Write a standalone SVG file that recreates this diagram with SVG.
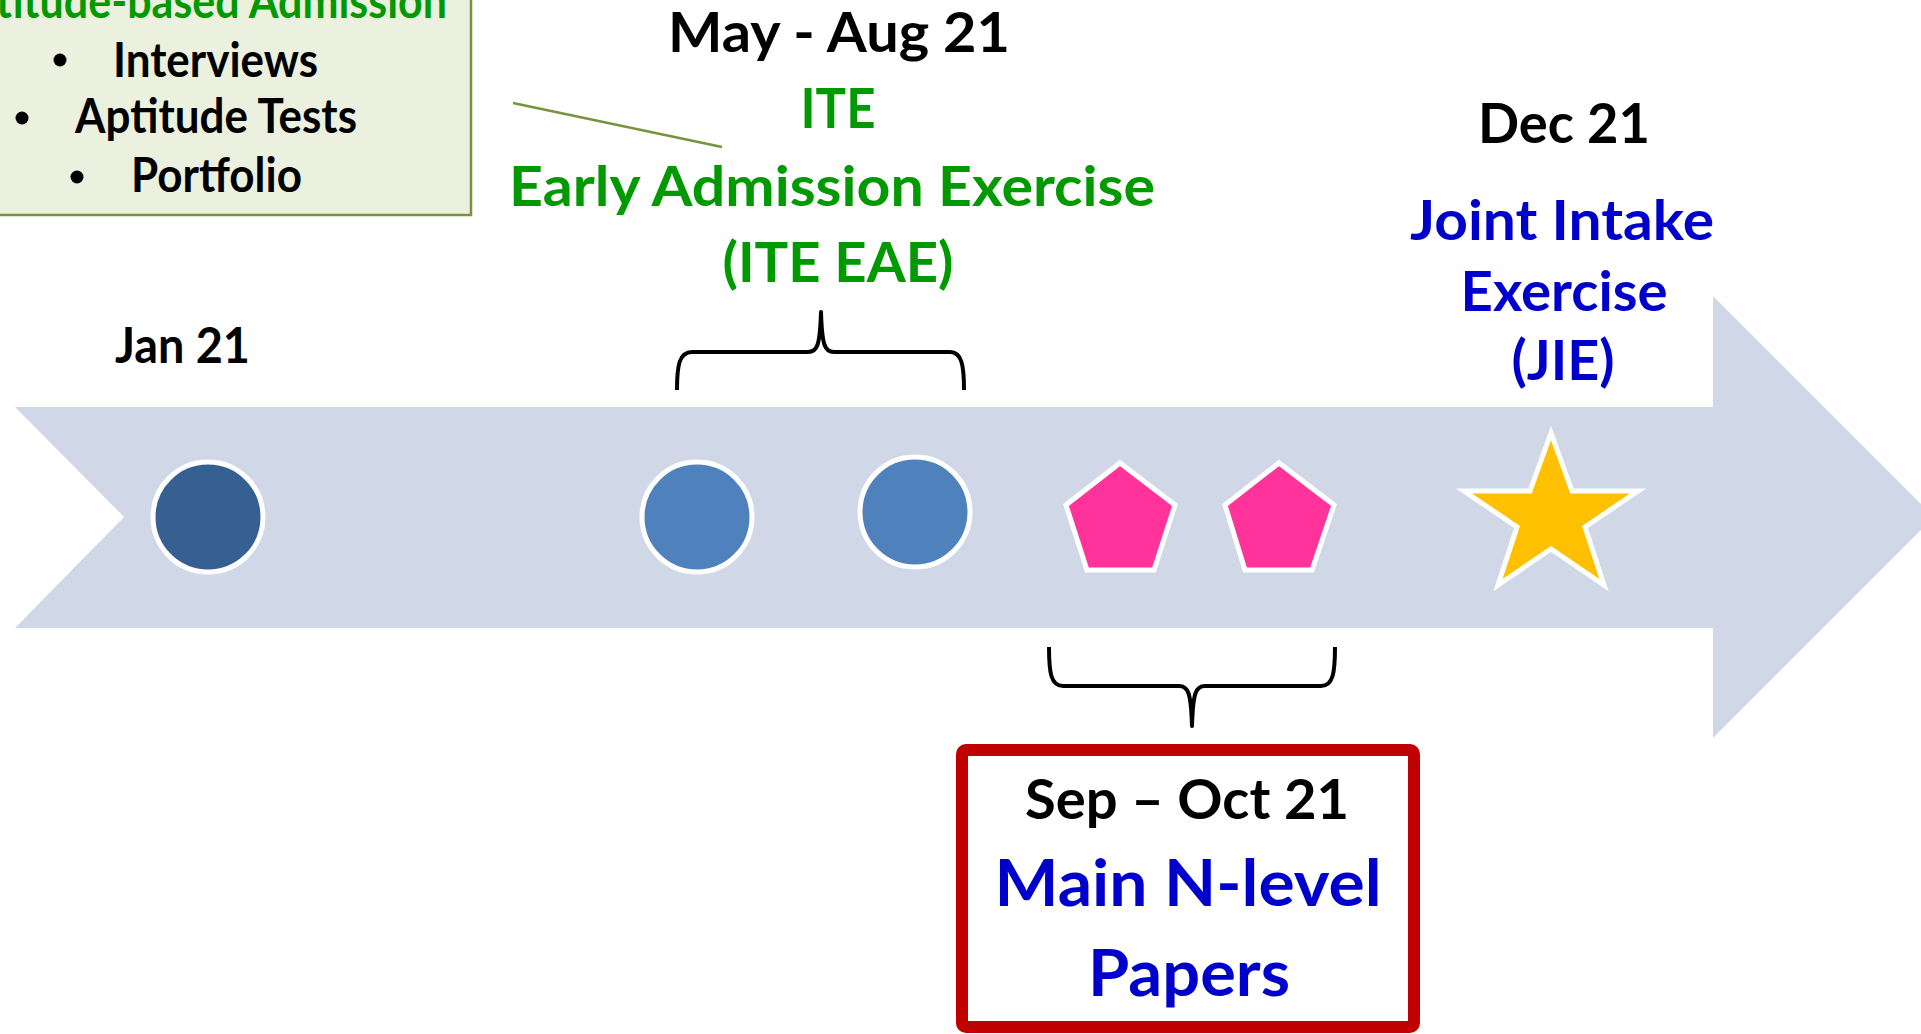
<svg xmlns="http://www.w3.org/2000/svg" width="1921" height="1034" viewBox="0 0 1921 1034">
<style>
text{font-family:Lato,"Liberation Sans",sans-serif;font-weight:700;text-anchor:middle}
.blk{fill:#000}
.grn{fill:#009900}
.blu{fill:#0000CC}
.s46{font-size:46px}
.s48{font-size:48px}
.s56{font-size:56px}
.s65{font-size:65px}
.s49{font-size:49px}
.mark{stroke:#fff;stroke-width:5}
.brace{fill:none;stroke:#000;stroke-width:4;stroke-linejoin:round}
</style>
<rect width="1921" height="1034" fill="#fff"/>
<g id="timeline-arrow">
<polygon points="15,407 1713,407 1713,296 1934,517 1713,738 1713,628 15,628 124,517" fill="#D0D8E8"/>
</g>
<g id="aptitude-box">
<rect x="-10" y="-10" width="481" height="225" fill="#EBF1DE" stroke="#77933C" stroke-width="2.5"/>
<text class="grn s48" x="194.5" y="18" textLength="505" lengthAdjust="spacingAndGlyphs">Aptitude-based Admission</text>
<circle cx="60" cy="60" r="6.5" fill="#000"/>
<text class="blk s48" x="215.5" y="77" textLength="205" lengthAdjust="spacingAndGlyphs">Interviews</text>
<circle cx="22" cy="118" r="6.5" fill="#000"/>
<text class="blk s48" x="216" y="133" textLength="282" lengthAdjust="spacingAndGlyphs">Aptitude Tests</text>
<circle cx="77" cy="177" r="6.5" fill="#000"/>
<text class="blk s48" x="216.5" y="192" textLength="171" lengthAdjust="spacingAndGlyphs">Portfolio</text>
</g>
<g id="connectors">
<line x1="513" y1="103" x2="722" y2="147" stroke="#77933C" stroke-width="2.5"/>
<path class="brace" d="M677,390 C677,366 679,352 692,352 L808,352 C817,352 820,346 821,312 C822,346 825,352 834,352 L950,352 C962,352 964,366 964,390"/>
<path class="brace" d="M1049,647 C1049,673 1051,686 1063,686 L1179,686 C1188,686 1191,692 1192,726 C1193,692 1196,686 1205,686 L1321,686 C1333,686 1335,673 1335,647"/>
</g>
<g id="ite-eae-label">
<text class="blk s56" x="839" y="52" textLength="342" lengthAdjust="spacingAndGlyphs">May - Aug 21</text>
<text class="grn s56" x="838" y="128" textLength="75" lengthAdjust="spacingAndGlyphs">ITE</text>
<text class="grn s56" x="832" y="206" textLength="646" lengthAdjust="spacingAndGlyphs">Early Admission Exercise</text>
<text class="grn s56" x="838" y="282" textLength="231" lengthAdjust="spacingAndGlyphs">(ITE EAE)</text>
</g>
<g id="jan-label">
<text class="blk s49" x="182.5" y="363" textLength="135" lengthAdjust="spacingAndGlyphs">Jan 21</text>
</g>
<g id="jie-label">
<text class="blk s56" x="1564" y="143" textLength="172" lengthAdjust="spacingAndGlyphs">Dec 21</text>
<text class="blu s56" x="1562" y="240" textLength="304" lengthAdjust="spacingAndGlyphs">Joint Intake</text>
<text class="blu s56" x="1564" y="311" textLength="207" lengthAdjust="spacingAndGlyphs">Exercise</text>
<text class="blu s56" x="1563" y="380" textLength="103" lengthAdjust="spacingAndGlyphs">(JIE)</text>
</g>
<g id="circle-jan"><circle class="mark" cx="208" cy="517" r="55" fill="#376092"/></g>
<g id="circle-may"><circle class="mark" cx="697" cy="517" r="55" fill="#4F81BD"/></g>
<g id="circle-aug"><circle class="mark" cx="915" cy="512" r="55" fill="#4F81BD"/></g>
<g id="pentagon-sep"><polygon class="mark" points="1120,463 1175,505 1154,570 1087,570 1066,505" fill="#FF3399"/></g>
<g id="pentagon-oct"><polygon class="mark" points="1279,463 1334,505 1312,570 1245,570 1225,505" fill="#FF3399"/></g>
<g id="star-dec"><polygon class="mark" points="1551,433 1572,491 1638,491 1585,527 1604,585 1551,549 1498,585 1517,527 1464,491 1530,491" fill="#FFC000"/></g>
<g id="n-level-box">
<rect x="962" y="750" width="452" height="277" rx="4" fill="#fff" stroke="#C00000" stroke-width="12"/>
<text class="blk s56" x="1187" y="819" textLength="324" lengthAdjust="spacingAndGlyphs">Sep – Oct 21</text>
<text class="blu s65" x="1188" y="906" textLength="387" lengthAdjust="spacingAndGlyphs">Main N-level</text>
<text class="blu s65" x="1189" y="996" textLength="202" lengthAdjust="spacingAndGlyphs">Papers</text>
</g>
</svg>
